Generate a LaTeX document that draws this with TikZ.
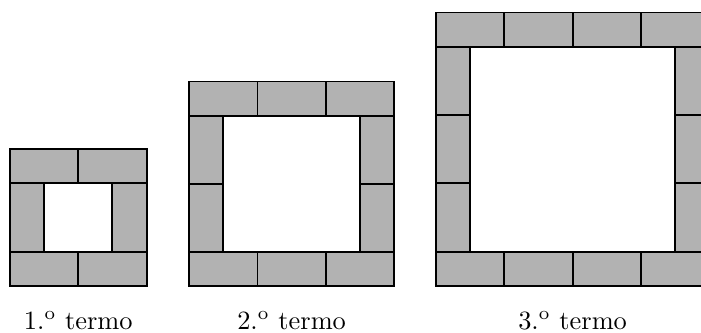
\documentclass[tikz,border=0pt]{standalone}
\newcommand\brickframe[3]{%
  % #1 = left x, #2 = top y, #3 = bricks per row
  \pgfmathtruncatemacro\bfn{#3}%
  \pgfmathtruncatemacro\bfm{#3-1}%
  \foreach \i in {1,...,\bfn}{%
    \draw[brick] ({#1+(\i-1)*2*\bu},{#2}) rectangle ++(2*\bu,\bu);
    \draw[brick] ({#1+(\i-1)*2*\bu},{#2+(2*\bfn-1)*\bu}) rectangle ++(2*\bu,\bu);
  }%
  \foreach \j in {1,...,\bfm}{%
    \draw[brick] ({#1},{#2+\bu+(\j-1)*2*\bu}) rectangle ++(\bu,2*\bu);
    \draw[brick] ({#1+(2*\bfn-1)*\bu},{#2+\bu+(\j-1)*2*\bu}) rectangle ++(\bu,2*\bu);
  }%
}
\begin{document}
\begin{tikzpicture}[x=0.379pt,y=-0.379pt,
  brick/.style={draw=black,fill=black!30,line width=0.75pt},
  lbl/.style={anchor=base,inner sep=0pt,font=\fontsize{10}{12}\selectfont}]
\useasboundingbox (0,0) rectangle (701,332);
\clip (0,0) rectangle (701,332);
\def\bu{34.15}
\brickframe{10}{149.3}{2}
\brickframe{189.2}{81.5}{3}
\brickframe{436}{12.5}{4}
\node[lbl] (t1) at (78.3,329) {1.\textsuperscript{o} termo};
\node[lbl] (t2) at (291.6,329) {2.\textsuperscript{o} termo};
\node[lbl] (t3) at (572.6,329) {3.\textsuperscript{o} termo};
\end{tikzpicture}
\end{document}
